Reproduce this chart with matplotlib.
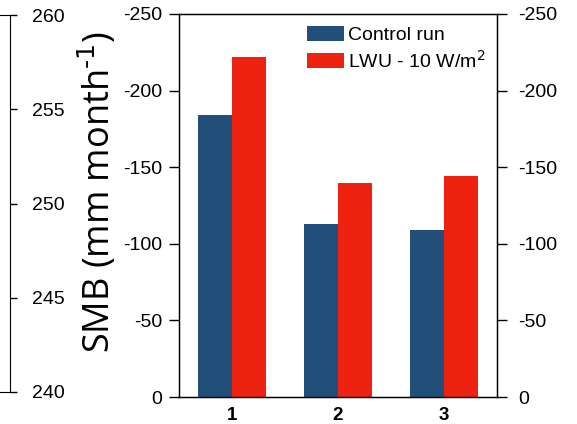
import numpy as np
import matplotlib
matplotlib.use('Agg')
import matplotlib.pyplot as plt

plt.rcParams['font.family'] = ['Liberation Sans', 'DejaVu Sans']

# data
groups = ['1', '2', '3']
control = [-184, -113, -109]
lwu = [-222, -140, -144]
y_ticks = [0, -50, -100, -150, -200, -250]
side_ticks = [240, 245, 250, 255, 260]

blue = '#224f7a'
red = '#ee2211'

fig = plt.figure(figsize=(5.77, 4.24), dpi=100)

# main axes
ax = fig.add_axes([179 / 577, 27 / 424, 318 / 577, 383 / 424])
x = np.arange(1, len(groups) + 1)
w = 0.32
ax.bar(x - w / 2, control, w, color=blue, label='Control run')
ax.bar(x + w / 2, lwu, w, color=red, label='LWU - 10 W/m$^2$')
ax.set_xlim(0.5, 3.5)
ax.set_ylim(0, -250)
ax.set_yticks(y_ticks)
ax.set_yticklabels([str(t) for t in y_ticks])
ax.set_xticks(x)
ax.set_xticklabels(groups, fontweight='bold')
ax.tick_params(axis='y', direction='out', length=7, width=1, labelsize=14, pad=5)
ax.tick_params(axis='x', length=0, labelsize=13.5, pad=7)
for s in ax.spines.values():
    s.set_linewidth(1)
ax.set_ylabel('SMB (mm month$^{\\text{-}1}$)', family=['Open Sans', 'DejaVu Sans'], fontsize=26)
ax.yaxis.set_label_coords(-0.19, 0.535)
ax.legend(loc='upper left', bbox_to_anchor=(0.365, 1.0), frameon=False, fontsize=14,
          handlelength=1.9, handleheight=0.8, handletextpad=0.2, labelspacing=0.3,
          borderaxespad=0.2)

# right axis, same scale
ax2 = ax.twinx()
ax2.set_ylim(0, -250)
ax2.set_yticks(y_ticks)
ax2.set_yticklabels([str(t) for t in y_ticks])
ax2.tick_params(axis='y', direction='out', length=7, width=1, labelsize=14, pad=8)

# cut-off axis at the far left
ax0 = fig.add_axes([-0.1, 32 / 424, 0.1 + 10 / 577, 377 / 424])
ax0.set_ylim(240, 260)
ax0.set_yticks(side_ticks)
ax0.yaxis.tick_right()
ax0.set_xticks([])
ax0.spines['left'].set_visible(False)
ax0.patch.set_visible(False)
ax0.tick_params(axis='y', direction='out', length=5, width=1, labelsize=14, pad=11)

fig.savefig('out.png', dpi=100)
